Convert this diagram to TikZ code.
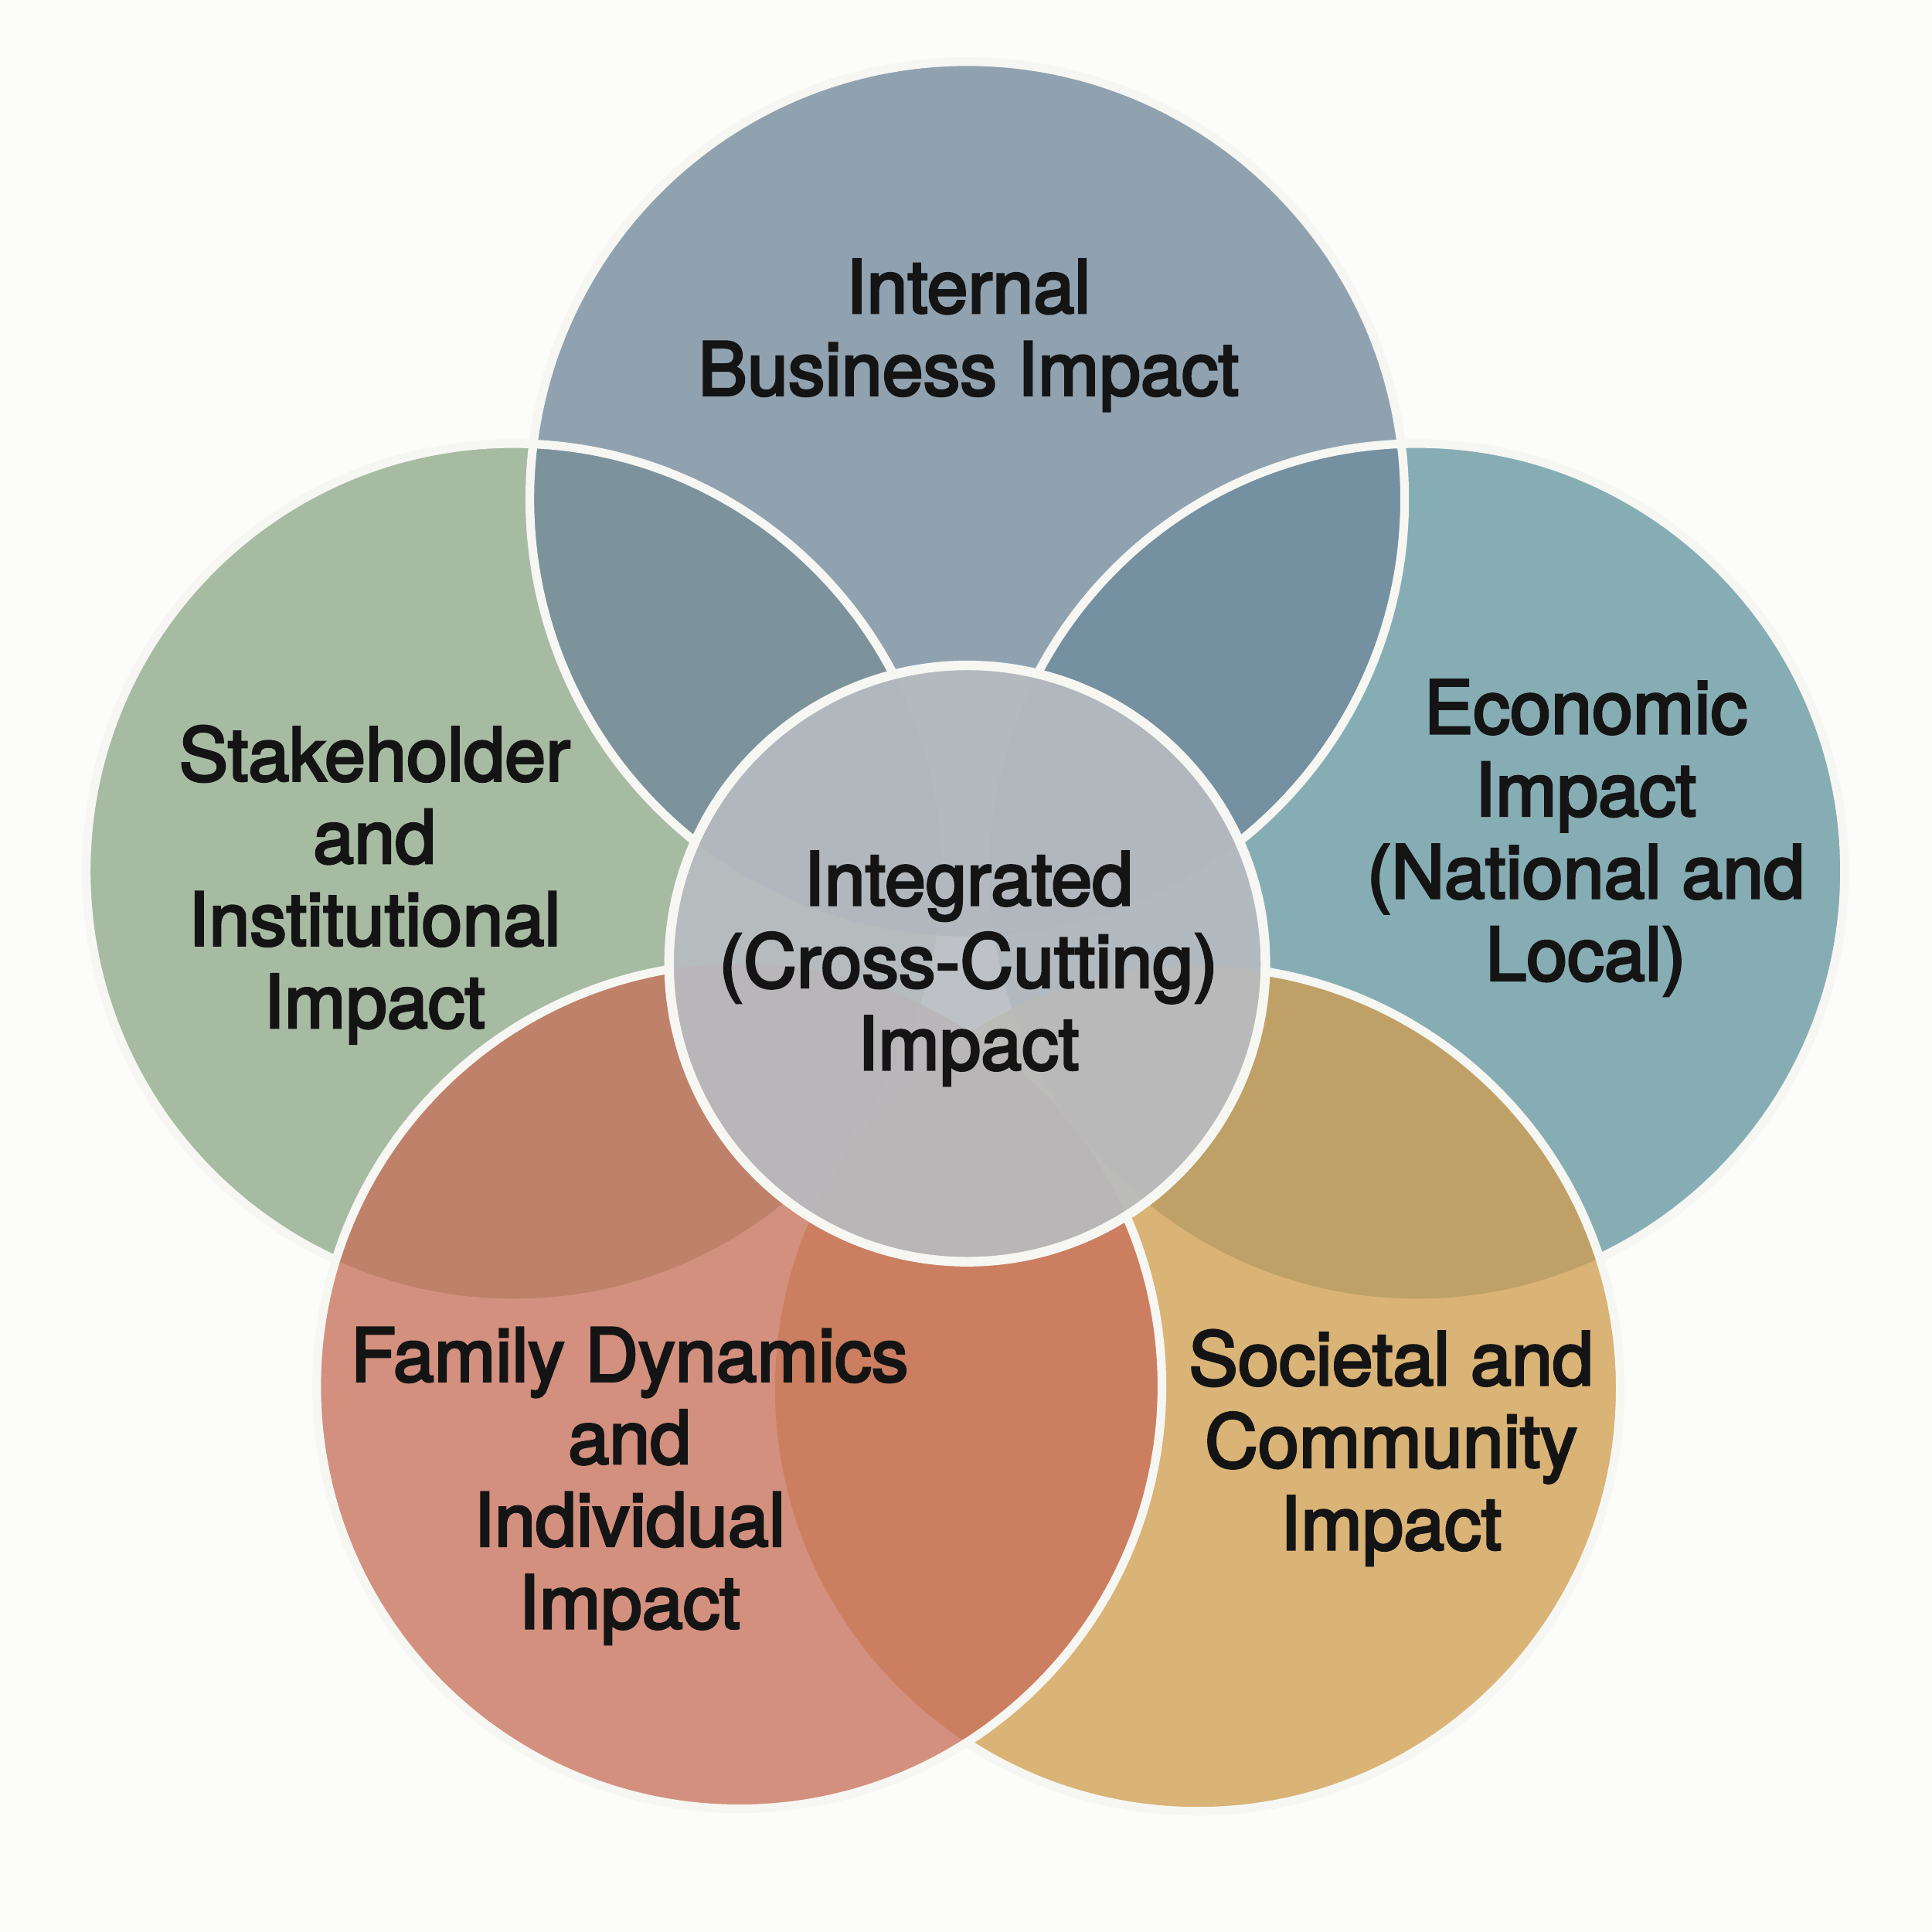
\documentclass[tikz,border=0pt]{standalone}
\usepackage{fontspec}
\setmainfont{TeX Gyre Heros}
\newfontfamily\lblfont{TeX Gyre Heros}[FakeBold=3.2]
\definecolor{CBack}{HTML}{FCFCFA}
\definecolor{CRing}{HTML}{F6F6F2}
\definecolor{CInk}{HTML}{141414}
\definecolor{CBlueGray}{HTML}{70889B}
\definecolor{CSage}{HTML}{8EA889}
\definecolor{CTeal}{HTML}{6496A0}
\definecolor{CCoral}{HTML}{C7705A}
\definecolor{CSand}{HTML}{D19E50}
\definecolor{CCore}{HTML}{B8BCC1}
\begin{document}
\begin{tikzpicture}[x=0.01cm, y=-0.01cm,
  petal/.style={fill opacity=0.77},
  ring/.style={draw=CRing, line width=2pt},
  lbl/.style={font=\lblfont\fontsize{17}{19}\selectfont, align=center, text=CInk}]
  \fill[CBack] (0,0) rectangle (1568,1568);
  \useasboundingbox (0,0) rectangle (1568,1568);

  % circle centres
  \coordinate (intl)  at (785,405);
  \coordinate (stake) at (417,707);
  \coordinate (econ)  at (1150,707);
  \coordinate (fam)   at (600,1125);
  \coordinate (soc)   at (972,1127);
  \coordinate (core)  at (785,782);

  % upper petals
  \fill[CSage, petal] (stake) circle (347);
  \fill[CTeal, petal] (econ) circle (347);
  \fill[CBlueGray, petal] (intl) circle (355);
  \begin{scope}[even odd rule]
    \clip (0,0) rectangle (1568,1568) (core) circle (242);
    \begin{scope}
      \clip (0,0) rectangle (1568,1568) (fam) circle (343);
      \draw[ring] (stake) circle (347);
    \end{scope}
    \begin{scope}
      \clip (0,0) rectangle (1568,1568) (soc) circle (343);
      \draw[ring] (econ) circle (347);
    \end{scope}
    \draw[ring] (intl) circle (355);
  \end{scope}

  % lower petals
  \fill[CSand, petal] (soc) circle (343);
  \begin{scope}[even odd rule]
    \clip (0,0) rectangle (1568,1568) (core) circle (242);
    \clip (0,0) rectangle (1568,1568) (fam) circle (343);
    \draw[ring] (soc) circle (343);
  \end{scope}
  \fill[CCoral, petal] (fam) circle (343);
  \begin{scope}[even odd rule]
    \clip (0,0) rectangle (1568,1568) (core) circle (242);
    \draw[ring] (fam) circle (343);
  \end{scope}

  % core
  \fill[CCore, fill opacity=0.9] (core) circle (242);
  \draw[ring, line width=2.2pt] (core) circle (242);

  % labels
  \node[lbl] (intllbl)  at (786,272)  {Internal\\Business Impact};
  \node[lbl] (stakelbl) at (304,718)  {Stakeholder\\and\\Institutional\\Impact};
  \node[lbl] (econlbl)  at (1287,680) {Economic\\Impact\\(National and\\Local)};
  \node[lbl] (corelbl)  at (786,786)  {Integrated\\(Cross-Cutting)\\Impact};
  \node[lbl] (famlbl)   at (511,1206) {Family Dynamics\\and\\Individual\\Impact};
  \node[lbl] (soclbl)   at (1129,1175) {Societal and\\Community\\Impact};
\end{tikzpicture}
\end{document}
